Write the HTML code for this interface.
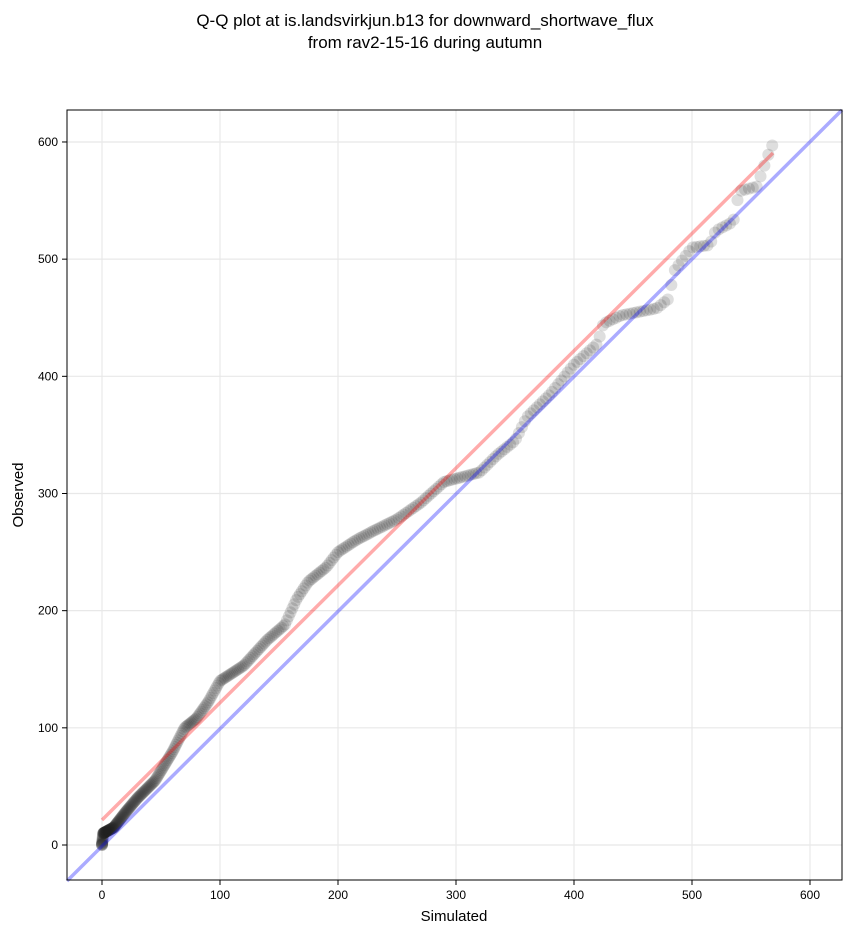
<!DOCTYPE html>
<html><head><meta charset="utf-8"><style>
body{margin:0;background:#fff;}
svg text{font-family:"Liberation Sans",sans-serif;fill:#000;}
</style></head><body>
<svg id="s" width="851" height="934" xmlns="http://www.w3.org/2000/svg">
<rect width="851" height="934" fill="#fff"/>
<text x="425" y="26" font-size="17" text-anchor="middle">Q-Q plot at is.landsvirkjun.b13 for downward_shortwave_flux</text>
<text x="425" y="48" font-size="17" text-anchor="middle">from rav2-15-16 during autumn</text>
<g id="grid" stroke="#e8e8e8" stroke-width="1.2"></g>
<g id="pts"></g>
<line x1="67" y1="881" x2="842" y2="110" stroke="#0000ff" stroke-opacity="0.33" stroke-width="3.5"/>
<line x1="102" y1="820" x2="773" y2="153" stroke="#ff0000" stroke-opacity="0.33" stroke-width="3.5"/>
<rect x="67" y="110" width="775" height="770" fill="none" stroke="#000" stroke-width="1"/>
<g id="ticks"></g>
<text x="454" y="921" font-size="15" text-anchor="middle">Simulated</text>
<text x="23" y="495" font-size="15" text-anchor="middle" transform="rotate(-90 23 495)">Observed</text>
</svg>
<script>
const NS="http://www.w3.org/2000/svg";
const X=v=>102+v*1.18, Y=v=>845-v*1.1717;
const g=document.getElementById('grid'),t=document.getElementById('ticks'),p=document.getElementById('pts');
function el(par,tag,a,txt){const e=document.createElementNS(NS,tag);for(const k in a)e.setAttribute(k,a[k]);if(txt!==undefined)e.textContent=txt;par.appendChild(e);}
for(let v=0;v<=600;v+=100){
 el(g,'line',{x1:X(v),x2:X(v),y1:110,y2:880});
 el(g,'line',{x1:67,x2:842,y1:Y(v),y2:Y(v)});
 el(t,'line',{x1:X(v),x2:X(v),y1:880,y2:885,stroke:'#000'});
 el(t,'line',{x1:62,x2:67,y1:Y(v),y2:Y(v),stroke:'#000'});
 el(t,'text',{x:X(v),y:899,'font-size':12,'text-anchor':'middle'},v);
 el(t,'text',{x:58,y:Y(v)+4,'font-size':12,'text-anchor':'end'},v);
}
const K=[[0,0],[1,10],[10,15],[20,28],[30,40],[45,55],[60,80],[70,100],[80,108],[90,122],[100,140],[120,153],[140,175],[155,188],[165,210],[175,225],[190,237],[200,250],[215,260],[230,268],[250,278],[270,292],[290,310],[320,318],[335,333],[350,345],[360,365],[380,385],[400,410],[420,428],[425,445],[440,452],[470,458],[480,466],[485,490],[500,510],[515,512],[520,524],[535,532],[540,558],[555,562],[565,590],[568,597]];
function f(s){for(let i=1;i<K.length;i++){if(s<=K[i][0]){const a=K[i-1],b=K[i];return a[1]+(b[1]-a[1])*(s-a[0])/(b[0]-a[0]||1);}}return 597;}
const N=380;
for(let i=0;i<N;i++){const u=i/(N-1);const s=568*(0.35*Math.pow(u,3)+0.65*Math.pow(u,1.8));
 el(p,'circle',{cx:X(s),cy:Y(f(s)),r:6,fill:'#222','fill-opacity':0.15});}
</script>
</body></html>
